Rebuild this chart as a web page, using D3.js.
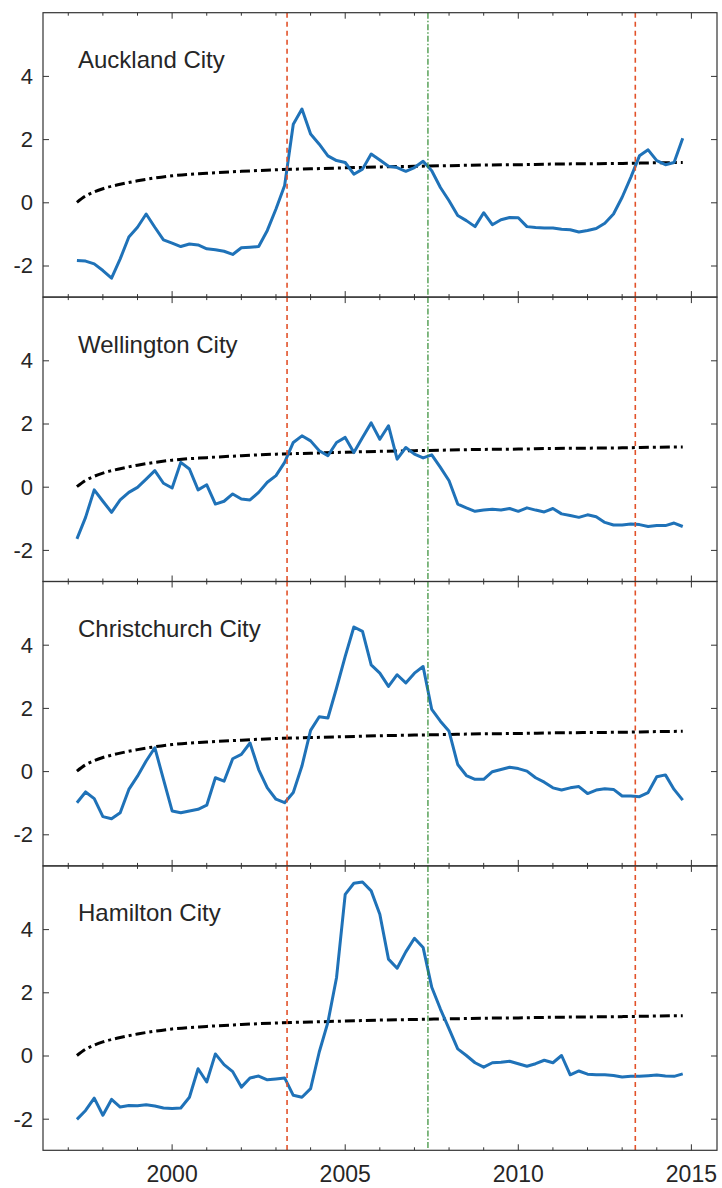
<!DOCTYPE html>
<html>
<head>
<meta charset="utf-8">
<script src="https://cdn.jsdelivr.net/npm/d3@7"></script>
<style>
  html, body { margin: 0; padding: 0; background: #ffffff; }
  svg { display: block; }
  text { font-family: "Liberation Sans", Arial, Helvetica, sans-serif; fill: #262626; }
</style>
</head>
<body>
<svg id="chart" width="722" height="1188"></svg>
<script>
// ---------------- DATA ----------------
const quarters = [
  1997.25, 1997.5, 1997.75, 1998.0, 1998.25, 1998.5, 1998.75, 1999.0, 1999.25, 1999.5, 1999.75,
  2000.0, 2000.25, 2000.5, 2000.75, 2001.0, 2001.25, 2001.5, 2001.75, 2002.0, 2002.25, 2002.5, 2002.75,
  2003.0, 2003.25, 2003.5, 2003.75, 2004.0, 2004.25, 2004.5, 2004.75, 2005.0, 2005.25, 2005.5, 2005.75,
  2006.0, 2006.25, 2006.5, 2006.75, 2007.0, 2007.25, 2007.5, 2007.75, 2008.0, 2008.25, 2008.5, 2008.75,
  2009.0, 2009.25, 2009.5, 2009.75, 2010.0, 2010.25, 2010.5, 2010.75, 2011.0, 2011.25, 2011.5, 2011.75,
  2012.0, 2012.25, 2012.5, 2012.75, 2013.0, 2013.25, 2013.5, 2013.75, 2014.0, 2014.25, 2014.5, 2014.75
];

const cities = ["Auckland City", "Wellington City", "Christchurch City", "Hamilton City"];

const auckland = [
  -1.84, -1.86, -1.95, -2.16, -2.40, -1.79, -1.10, -0.79, -0.37, -0.79, -1.19,
  -1.29, -1.40, -1.32, -1.35, -1.47, -1.50, -1.55, -1.65, -1.44, -1.42, -1.40, -0.89,
  -0.21, 0.53, 2.47, 2.95, 2.16, 1.84, 1.47, 1.32, 1.26, 0.89, 1.05, 1.53,
  1.34, 1.14, 1.10, 0.98, 1.10, 1.30, 1.00, 0.47, 0.05, -0.42, -0.58, -0.77,
  -0.33, -0.71, -0.55, -0.48, -0.49, -0.77, -0.80, -0.81, -0.81, -0.85, -0.87, -0.94,
  -0.89, -0.83, -0.66, -0.37, 0.16, 0.79, 1.47, 1.66, 1.32, 1.19, 1.26, 2.03
];

const wellington = [
  -1.65, -0.97, -0.10, -0.46, -0.81, -0.42, -0.18, -0.02, 0.24, 0.51, 0.11,
  -0.04, 0.77, 0.56, -0.10, 0.06, -0.55, -0.46, -0.23, -0.39, -0.42, -0.18, 0.14,
  0.35, 0.77, 1.40, 1.61, 1.45, 1.14, 0.98, 1.40, 1.56, 1.08, 1.56, 2.02,
  1.50, 1.93, 0.87, 1.24, 1.03, 0.91, 1.01, 0.61, 0.19, -0.55, -0.67, -0.78,
  -0.74, -0.71, -0.74, -0.69, -0.78, -0.67, -0.74, -0.80, -0.69, -0.86, -0.91, -0.97,
  -0.89, -0.95, -1.13, -1.21, -1.21, -1.18, -1.20, -1.26, -1.23, -1.23, -1.15, -1.26
];

const christchurch = [
  -1.00, -0.66, -0.87, -1.44, -1.51, -1.32, -0.58, -0.16, 0.32, 0.74, -0.26,
  -1.26, -1.32, -1.26, -1.21, -1.08, -0.21, -0.32, 0.39, 0.53, 0.89, 0.05, -0.53,
  -0.89, -1.00, -0.68, 0.16, 1.29, 1.72, 1.68, 2.63, 3.63, 4.56, 4.42, 3.36,
  3.10, 2.68, 3.05, 2.79, 3.10, 3.31, 1.95, 1.58, 1.26, 0.21, -0.14, -0.26,
  -0.26, -0.02, 0.05, 0.12, 0.08, 0.00, -0.21, -0.35, -0.53, -0.60, -0.53, -0.49,
  -0.71, -0.60, -0.56, -0.58, -0.79, -0.79, -0.81, -0.68, -0.18, -0.12, -0.58, -0.92
];

const hamilton = [
  -2.02, -1.74, -1.35, -1.89, -1.39, -1.63, -1.58, -1.59, -1.56, -1.60, -1.66,
  -1.68, -1.66, -1.32, -0.42, -0.84, 0.05, -0.29, -0.51, -1.00, -0.71, -0.65, -0.77,
  -0.74, -0.71, -1.26, -1.32, -1.05, 0.11, 1.05, 2.47, 5.10, 5.45, 5.49, 5.21,
  4.47, 3.05, 2.76, 3.28, 3.71, 3.42, 2.16, 1.47, 0.84, 0.21, 0.00, -0.23,
  -0.37, -0.23, -0.21, -0.18, -0.26, -0.34, -0.26, -0.15, -0.23, 0.00, -0.61, -0.49,
  -0.59, -0.61, -0.61, -0.63, -0.68, -0.66, -0.66, -0.64, -0.62, -0.65, -0.66, -0.58
];

const seriesList = [auckland, wellington, christchurch, hamilton];

// critical value curve (same in all panels)
const critYears  = [1997.25, 1997.5, 1997.75, 1998.0, 1998.5, 1999.0, 1999.5, 2000.0, 2001.0, 2002.0, 2003.0, 2004.0, 2005.0, 2006.0, 2007.0, 2008.0, 2009.0, 2010.0, 2011.0, 2012.0, 2013.0, 2014.0, 2014.75];
const critValues = [0.00, 0.20, 0.33, 0.43, 0.57, 0.68, 0.77, 0.84, 0.92, 0.98, 1.03, 1.06, 1.09, 1.12, 1.14, 1.16, 1.18, 1.19, 1.21, 1.22, 1.23, 1.25, 1.26];

// vertical marker dates
const redDates = [2003.32, 2013.38];
const greenDates = [2007.39];

const yTicks = [-2, 0, 2, 4];
const yTickLabels = ["-2", "0", "2", "4"];
const xMajorTicks = [2000, 2005, 2010, 2015];
const xTickLabels = ["2000", "2005", "2010", "2015"];
const xMinorTicks = [1997, 1998, 1999, 2000, 2001, 2002, 2003, 2004, 2005, 2006, 2007, 2008, 2009, 2010, 2011, 2012, 2013, 2014, 2015];

// ---------------- LAYOUT ----------------
const svg = d3.select("#chart");
const left = 43, right = 717;
const top0 = 12.7, panelH = 284.4;
const axisColor = "#333333";

const x = d3.scaleLinear().domain([1996.27, 2015.74]).range([left, right]);

cities.forEach((name, i) => {
  const pTop = top0 + i * panelH;
  const pBot = pTop + panelH;
  const y = d3.scaleLinear().domain([-3, 6]).range([pBot, pTop]);
  const g = svg.append("g");

  const clipId = "clip" + i;
  g.append("clipPath").attr("id", clipId)
    .append("rect").attr("x", left).attr("y", pTop).attr("width", right - left).attr("height", panelH);

  const plot = g.append("g").attr("clip-path", `url(#${clipId})`);

  // critical value curve
  const critData = critYears.map((t, k) => [t, critValues[k]]);
  plot.append("path")
    .datum(critData)
    .attr("d", d3.line().x(d => x(d[0])).y(d => y(d[1])).curve(d3.curveMonotoneX))
    .attr("fill", "none")
    .attr("stroke", "#000")
    .attr("stroke-width", 3)
    .attr("stroke-dasharray", "10,4,3,4");

  // series
  const data = quarters.map((t, k) => [t, seriesList[i][k]]);
  plot.append("path")
    .datum(data)
    .attr("d", d3.line().x(d => x(d[0])).y(d => y(d[1])))
    .attr("fill", "none")
    .attr("stroke", "#1f72b8")
    .attr("stroke-width", 3)
    .attr("stroke-linejoin", "round");

  // vertical markers
  redDates.forEach(t => {
    plot.append("line")
      .attr("x1", x(t)).attr("x2", x(t)).attr("y1", pTop).attr("y2", pBot)
      .attr("stroke", "#e2522a").attr("stroke-width", 1.6)
      .attr("stroke-dasharray", "5,4");
  });
  greenDates.forEach(t => {
    plot.append("line")
      .attr("x1", x(t)).attr("x2", x(t)).attr("y1", pTop).attr("y2", pBot)
      .attr("stroke", "#2f8a2f").attr("stroke-width", 1.2)
      .attr("stroke-dasharray", "6,2,1.5,2");
  });

  // axes: left and right ticks (inside)
  const yLeft = d3.axisRight(y).tickValues(yTicks).tickSize(6).tickFormat("");
  g.append("g").attr("transform", `translate(${left},0)`).call(yLeft)
    .call(s => s.select(".domain").remove())
    .selectAll("line").attr("stroke", axisColor);
  const yRight = d3.axisLeft(y).tickValues(yTicks).tickSize(6).tickFormat("");
  g.append("g").attr("transform", `translate(${right},0)`).call(yRight)
    .call(s => s.select(".domain").remove())
    .selectAll("line").attr("stroke", axisColor);

  // y tick labels (hyphen-minus as in the original)
  g.selectAll(".ylab").data(yTicks).enter().append("text")
    .attr("x", left - 10).attr("y", d => y(d)).attr("dy", "0.36em")
    .attr("text-anchor", "end").attr("font-size", 22)
    .text((d, k) => yTickLabels[k]);

  // x ticks top and bottom
  const addXTicks = (yPos, dir) => {
    const tg = g.append("g");
    tg.selectAll(".mn").data(xMinorTicks).enter().append("line")
      .attr("x1", d => x(d)).attr("x2", d => x(d))
      .attr("y1", yPos).attr("y2", d => yPos + dir * (xMajorTicks.includes(d) ? 6 : 3))
      .attr("stroke", axisColor).attr("stroke-width", 1);
  };
  addXTicks(pTop, 1);
  addXTicks(pBot, -1);

  // frame
  g.append("rect").attr("x", left).attr("y", pTop).attr("width", right - left).attr("height", panelH)
    .attr("fill", "none").attr("stroke", axisColor).attr("stroke-width", 1.2);

  // title
  g.append("text").attr("x", 78).attr("y", pTop + 55.5)
    .attr("font-size", 24).text(name);

  if (i === cities.length - 1) {
    g.selectAll(".xlab").data(xMajorTicks).enter().append("text")
      .attr("x", d => x(d)).attr("y", pBot + 32)
      .attr("text-anchor", "middle").attr("font-size", 23)
      .text((d, k) => xTickLabels[k]);
  }
});
</script>
</body>
</html>
